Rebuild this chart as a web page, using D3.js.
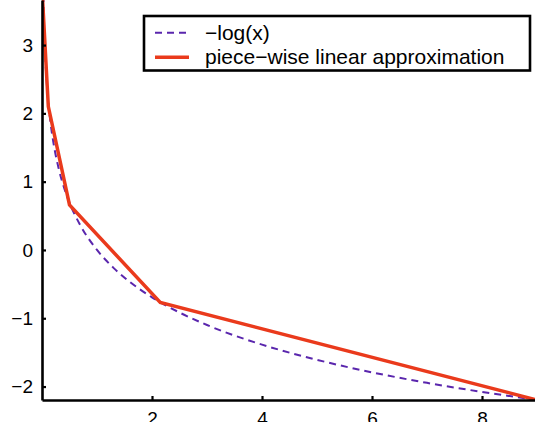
<!DOCTYPE html>
<html>
<head>
<meta charset="utf-8">
<script src="https://cdn.jsdelivr.net/npm/d3@7"></script>
<style>
  body { margin: 0; background: #fff; }
  svg { display: block; font-family: "Liberation Sans", Arial, sans-serif; }
</style>
</head>
<body>
<div id="chart"></div>
<script>
// chart size
const width = 535;
const height = 422;

// -log(x) curve, sampled
const curveX = [0.02, 0.03, 0.05, 0.07, 0.1, 0.15, 0.2, 0.3, 0.4, 0.5, 0.7, 1, 1.3, 1.6, 2, 2.5, 3, 4, 5, 6, 7, 8, 9];
const curveY = [3.912, 3.507, 2.996, 2.659, 2.303, 1.897, 1.609, 1.204, 0.916, 0.693, 0.357, 0, -0.262, -0.47, -0.693, -0.916, -1.099, -1.386, -1.609, -1.792, -1.946, -2.079, -2.197];

// piece-wise linear approximation, breakpoints
const pwlX = [0.005, 0.115, 0.5, 2.15, 9];
const pwlY = [3.75, 2.1, 0.66, -0.77, -2.197];

// tick labels
const xTicks = [2, 4, 6, 8];
const yTicks = [-2, -1, 0, 1, 2, 3];
const legendLabels = ["\u2212log(x)", "piece\u2212wise linear approximation"];

const purple = "#5a26ad";
const red = "#ea3a1c";

const svg = d3.select("#chart").append("svg")
  .attr("width", width)
  .attr("height", height);

// scales
const x = d3.scaleLinear().domain([0, 9]).range([42, 537]);
const y = d3.scaleLinear().domain([-2.197, 3.66]).range([400, 0]);

// clip to plot area
svg.append("clipPath").attr("id", "clip")
  .append("rect")
  .attr("x", x(0)).attr("y", y(3.66))
  .attr("width", x(9) - x(0)).attr("height", y(-2.197) - y(3.66));

const curveData = curveX.map((d, i) => [d, curveY[i]]);
const pwlData = pwlX.map((d, i) => [d, pwlY[i]]);

svg.append("path")
  .datum(curveData)
  .attr("clip-path", "url(#clip)")
  .attr("fill", "none")
  .attr("stroke", purple)
  .attr("stroke-width", 2)
  .attr("stroke-dasharray", "7,5")
  .attr("d", d3.line().x(d => x(d[0])).y(d => y(d[1])).curve(d3.curveMonotoneX));

svg.append("path")
  .datum(pwlData)
  .attr("clip-path", "url(#clip)")
  .attr("fill", "none")
  .attr("stroke", red)
  .attr("stroke-width", 3.5)
  .attr("d", d3.line().x(d => x(d[0])).y(d => y(d[1])));

// axes, ticks pointing in
const xAxis = svg.append("g")
  .attr("transform", `translate(0,${y(-2.197)})`)
  .call(d3.axisBottom(x).tickValues(xTicks).tickSize(-4).tickPadding(12).tickSizeOuter(0));

const yAxis = svg.append("g")
  .attr("transform", `translate(${x(0)},0)`)
  .call(d3.axisLeft(y).tickValues(yTicks).tickSize(-4).tickPadding(9).tickSizeOuter(0)
    .tickFormat(d => d < 0 ? "\u2212" + Math.abs(d) : d));

[xAxis, yAxis].forEach(g => {
  g.select(".domain").attr("stroke", "#000").attr("stroke-width", 2.6);
  g.selectAll(".tick line").attr("stroke", "#000").attr("stroke-width", 2.2);
  g.selectAll(".tick text")
    .attr("fill", "#000")
    .attr("font-size", "19px")
    .attr("font-family", "Liberation Sans, Arial, sans-serif");
});

// legend
const legend = svg.append("g");
legend.append("rect")
  .attr("x", 144).attr("y", 16)
  .attr("width", 386).attr("height", 54.5)
  .attr("fill", "#fff")
  .attr("stroke", "#000")
  .attr("stroke-width", 2.6);

const legendRows = [
  {label: legendLabels[0], color: purple, width: 2, dash: "7,5", ly: 32.7},
  {label: legendLabels[1], color: red, width: 3.5, dash: null, ly: 57.3}
];

legendRows.forEach(r => {
  legend.append("line")
    .attr("x1", 155).attr("x2", 189)
    .attr("y1", r.ly).attr("y2", r.ly)
    .attr("stroke", r.color)
    .attr("stroke-width", r.width)
    .attr("stroke-dasharray", r.dash);
  legend.append("text")
    .attr("x", 205).attr("y", r.ly + 7)
    .attr("font-size", "21px")
    .attr("fill", "#000")
    .text(r.label);
});
</script>
</body>
</html>
